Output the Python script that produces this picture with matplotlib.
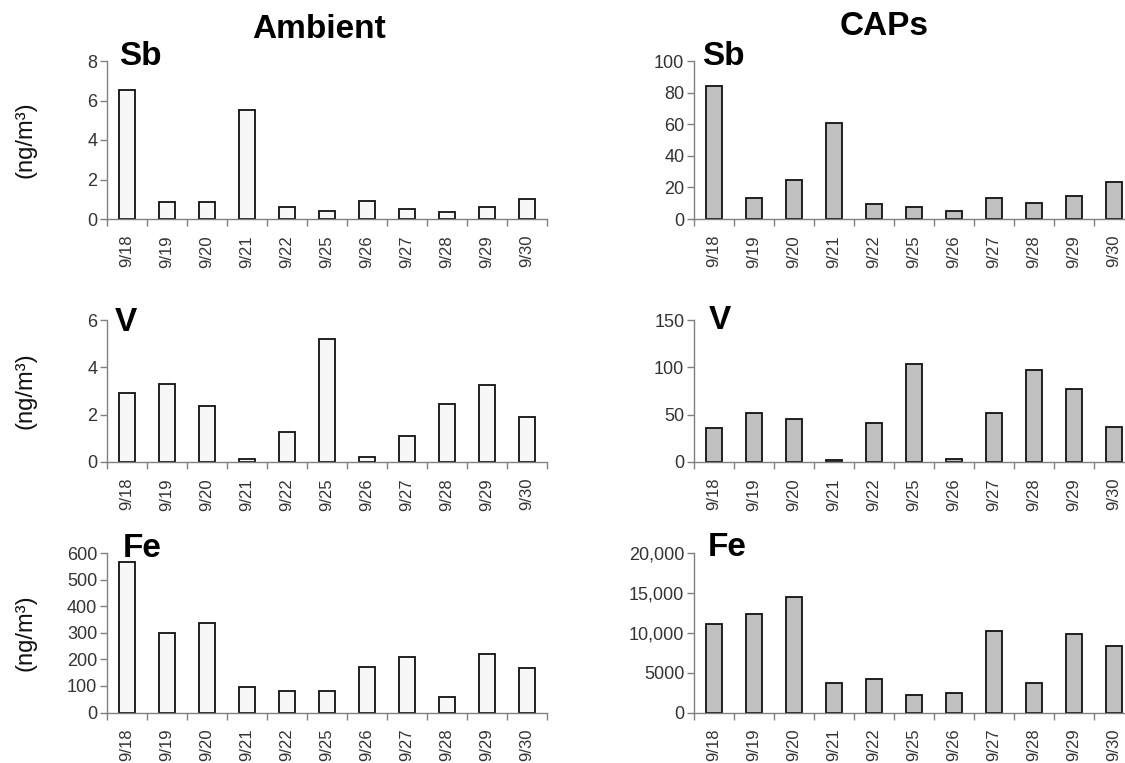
import matplotlib
matplotlib.use("Agg")
import matplotlib.pyplot as plt
from matplotlib.ticker import FixedLocator

plt.rcParams['font.family'] = ['Liberation Sans', 'DejaVu Sans']

dates = ["9/18", "9/19", "9/20", "9/21", "9/22", "9/25", "9/26", "9/27", "9/28", "9/29", "9/30"]

amb_sb = [6.55, 0.88, 0.87, 5.5, 0.6, 0.4, 0.9, 0.5, 0.35, 0.6, 1.02]
caps_sb = [84, 13, 25, 61, 9.5, 7.5, 5, 13, 10, 14.5, 23.5]
amb_v = [2.92, 3.3, 2.35, 0.12, 1.28, 5.2, 0.22, 1.1, 2.45, 3.25, 1.9]
caps_v = [36, 52, 45, 2.5, 41, 104, 3, 52, 97, 77, 37]
amb_fe = [565, 298, 335, 95, 82, 80, 172, 210, 57, 220, 168]
caps_fe = [11100, 12300, 14450, 3700, 4200, 2200, 2450, 10250, 3700, 9850, 8400]

amb_sb_ticks = [0, 2, 4, 6, 8]
caps_sb_ticks = [0, 20, 40, 60, 80, 100]
amb_v_ticks = [0, 2, 4, 6]
caps_v_ticks = [0, 50, 100, 150]
amb_fe_ticks = [0, 100, 200, 300, 400, 500, 600]
caps_fe_ticks = [0, 5000, 10000, 15000, 20000]
caps_fe_labels = ["0", "5000", "10,000", "15,000", "20,000"]

W, H = 1125, 763
fig = plt.figure(figsize=(W / 100, H / 100), dpi=100)

rows = [(61, 219), (320, 462), (553, 712.5)]
cols = [107, 694]
axw = 440

spine_col = "#808080"
text_col = "#333333"

panels = [
    (0, 0, amb_sb, amb_sb_ticks, None, "Sb", "#f7f7f7", (119, 65)),
    (0, 1, caps_sb, caps_sb_ticks, None, "Sb", "#c0c0c0", (702, 65)),
    (1, 0, amb_v, amb_v_ticks, None, "V", "#f7f7f7", (115, 331)),
    (1, 1, caps_v, caps_v_ticks, None, "V", "#c0c0c0", (709, 329)),
    (2, 0, amb_fe, amb_fe_ticks, None, "Fe", "#f7f7f7", (123, 557)),
    (2, 1, caps_fe, caps_fe_ticks, caps_fe_labels, "Fe", "#c0c0c0", (708, 556)),
]

x = list(range(len(dates)))
for r, c, vals, ticks, tlabels, name, fc, (lx, ly) in panels:
    top, bot = rows[r]
    ax = fig.add_axes([cols[c] / W, 1 - bot / H, axw / W, (bot - top) / H])
    ax.bar(x, vals, width=0.42, color=fc, edgecolor="#111111", linewidth=1.3, zorder=3)
    ax.set_xlim(-0.5, len(dates) - 0.5)
    ax.set_ylim(ticks[0], ticks[-1])
    ax.set_yticks(ticks)
    if tlabels is not None:
        ax.set_yticklabels(tlabels)
    ax.set_xticks(x)
    ax.set_xticklabels(dates, rotation=90)
    ax.xaxis.set_minor_locator(FixedLocator([i - 0.5 for i in range(len(dates) + 1)]))
    ax.tick_params(axis="x", which="major", length=0, pad=11.5, labelsize=12, labelcolor=text_col)
    ax.tick_params(axis="x", which="minor", length=5, width=1, color=spine_col, direction="out")
    ax.tick_params(axis="y", length=5, width=1, color=spine_col, pad=2, labelsize=13, labelcolor=text_col)
    for s in ("top", "right"):
        ax.spines[s].set_visible(False)
    for s in ("left", "bottom"):
        ax.spines[s].set_color(spine_col)
        ax.spines[s].set_linewidth(1.0)
    ax.spines["bottom"].set_zorder(4)
    fig.text(lx / W, 1 - ly / H, name, fontsize=24, fontweight="bold", ha="left", va="baseline")
    if c == 0:
        fig.text(25 / W, 1 - ((top + bot) / 2) / H, "(ng/m³)", fontsize=17, rotation=90,
                 ha="center", va="center", color="#111111")

fig.text(319 / W, 1 - 38 / H, "Ambient", fontsize=24, fontweight="bold", ha="center", va="baseline")
fig.text(884 / W, 1 - 35 / H, "CAPs", fontsize=24, fontweight="bold", ha="center", va="baseline")

fig.savefig("out.png", dpi=100)
